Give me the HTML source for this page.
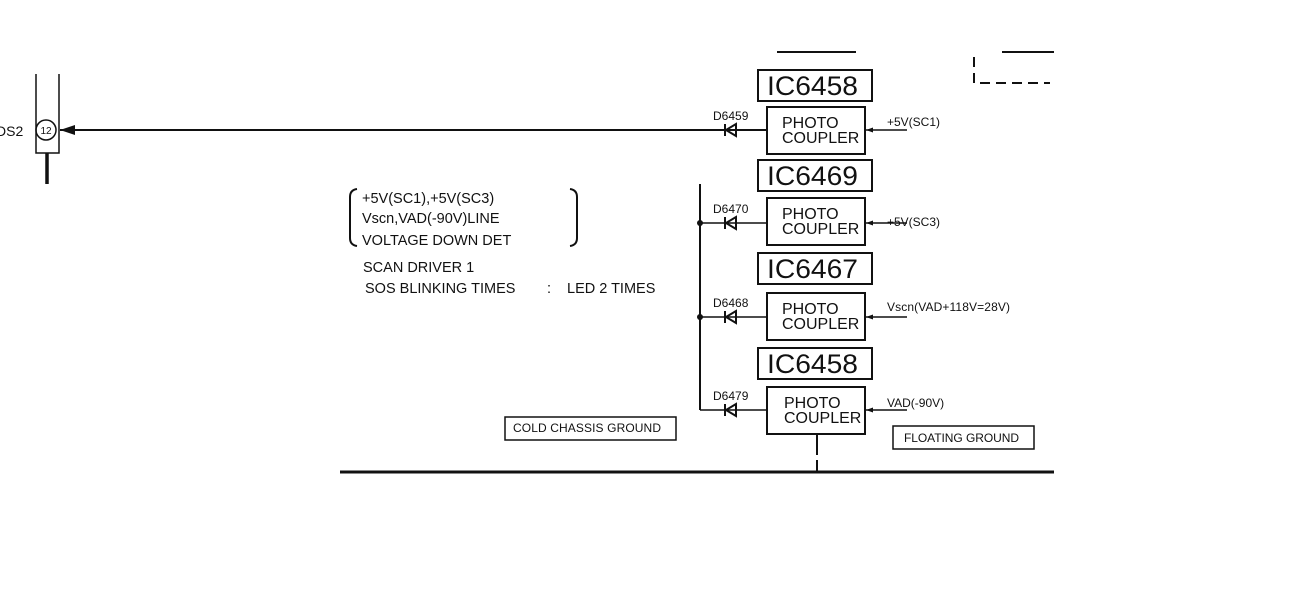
<!DOCTYPE html>
<html><head><meta charset="utf-8"><style>body{margin:0;background:#fff}svg{display:block}text{font-family:"Liberation Sans",sans-serif;fill:#111}</style></head>
<body>
<svg width="1304" height="599" viewBox="0 0 1304 599" xmlns="http://www.w3.org/2000/svg">
<g stroke="#111" fill="none" stroke-width="1.5">
<path d="M36 74V153H59V74" stroke-width="1.5"/>
<line x1="47" y1="153" x2="47" y2="184" stroke-width="3.5"/>
<circle cx="46" cy="130" r="10"/>
<line x1="60" y1="130" x2="767" y2="130" stroke-width="2"/>
<line x1="777" y1="52" x2="856" y2="52" stroke-width="2"/>
<line x1="1002" y1="52" x2="1054" y2="52" stroke-width="2"/>
<path d="M974 57V83H1050" stroke-dasharray="10,6" stroke-width="2"/>
<rect x="758" y="70" width="114" height="31" stroke-width="2"/>
<rect x="758" y="160" width="114" height="31" stroke-width="2"/>
<rect x="758" y="253" width="114" height="31" stroke-width="2"/>
<rect x="758" y="348" width="114" height="31" stroke-width="2"/>
<rect x="767" y="107" width="98" height="47" stroke-width="2"/>
<rect x="767" y="198" width="98" height="47" stroke-width="2"/>
<rect x="767" y="293" width="98" height="47" stroke-width="2"/>
<rect x="767" y="387" width="98" height="47" stroke-width="2"/>
<line x1="700" y1="184" x2="700" y2="410" stroke-width="2"/>
<line x1="700" y1="223" x2="767" y2="223"/>
<line x1="700" y1="317" x2="767" y2="317"/>
<line x1="700" y1="410" x2="767" y2="410"/>
<line x1="866" y1="130" x2="907" y2="130"/>
<line x1="866" y1="223" x2="907" y2="223"/>
<line x1="866" y1="317" x2="907" y2="317"/>
<line x1="866" y1="410" x2="907" y2="410"/>
<line x1="817" y1="434" x2="817" y2="455" stroke-width="2"/>
<line x1="817" y1="460" x2="817" y2="472" stroke-width="2"/>
<line x1="340" y1="472" x2="1054" y2="472" stroke-width="3"/>
<rect x="505" y="417" width="171" height="23"/>
<rect x="893" y="426" width="141" height="23"/>
<path d="M357 189Q350 190 350 197V238Q350 245 357 246" stroke-width="2"/>
<path d="M570 189Q577 190 577 197V238Q577 245 570 246" stroke-width="2"/>
</g>
<g fill="#111">
<polygon points="60,130 75,125 75,135"/>
<circle cx="700" cy="223" r="3"/><circle cx="700" cy="317" r="3"/>
<polygon points="866,130 873,127.5 873,132.5"/><polygon points="866,223 873,220.5 873,225.5"/>
<polygon points="866,317 873,314.5 873,319.5"/><polygon points="866,410 873,407.5 873,412.5"/>
</g>
<g stroke="#111" stroke-width="2" fill="none">
<path d="M736 124V136L726 130Z M725 124V136"/>
<path d="M736 217V229L726 223Z M725 217V229"/>
<path d="M736 311V323L726 317Z M725 311V323"/>
<path d="M736 404V416L726 410Z M725 404V416"/>
</g>
<text x="-4" y="136" font-size="14">DS2</text>
<text x="46" y="134" font-size="10" text-anchor="middle">12</text>
<g font-size="27"><text x="767" y="95" textLength="91" lengthAdjust="spacingAndGlyphs">IC6458</text><text x="767" y="185" textLength="91" lengthAdjust="spacingAndGlyphs">IC6469</text><text x="767" y="278" textLength="91" lengthAdjust="spacingAndGlyphs">IC6467</text><text x="767" y="373" textLength="91" lengthAdjust="spacingAndGlyphs">IC6458</text></g>
<g font-size="16">
<text x="782" y="128">PHOTO</text><text x="782" y="143">COUPLER</text>
<text x="782" y="219">PHOTO</text><text x="782" y="234">COUPLER</text>
<text x="782" y="314">PHOTO</text><text x="782" y="329">COUPLER</text>
<text x="784" y="408">PHOTO</text><text x="784" y="423">COUPLER</text>
</g>
<g font-size="12">
<text x="713" y="120">D6459</text><text x="713" y="213">D6470</text><text x="713" y="307">D6468</text><text x="713" y="400">D6479</text>
<text x="887" y="126">+5V(SC1)</text><text x="887" y="226">+5V(SC3)</text><text x="887" y="311" textLength="123">Vscn(VAD+118V=28V)</text><text x="887" y="407">VAD(-90V)</text>
<text x="513" y="432" textLength="148">COLD CHASSIS GROUND</text><text x="904" y="442" textLength="115">FLOATING GROUND</text>
</g>
<g font-size="14.5">
<text x="362" y="203">+5V(SC1),+5V(SC3)</text>
<text x="362" y="223">Vscn,VAD(-90V)LINE</text>
<text x="362" y="245">VOLTAGE DOWN DET</text>
<text x="363" y="272">SCAN DRIVER 1</text>
<text x="365" y="293">SOS BLINKING TIMES</text>
<text x="547" y="293">:</text>
<text x="567" y="293">LED 2 TIMES</text>
</g>
</svg>
</body></html>
